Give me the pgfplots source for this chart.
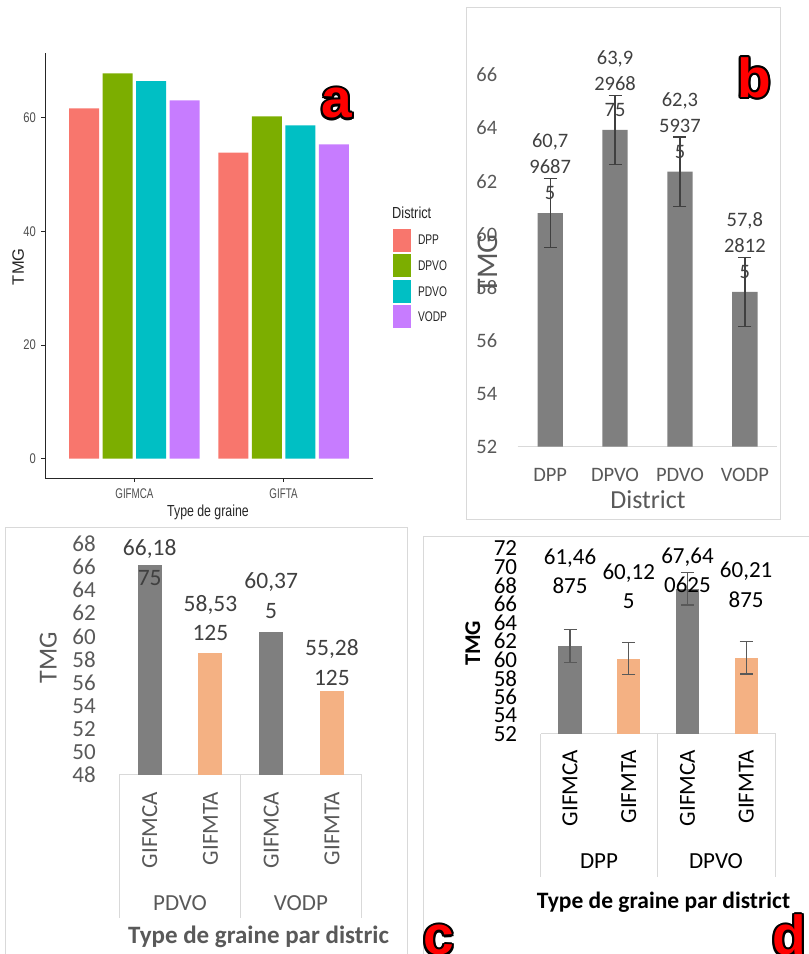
\documentclass[border=0pt]{standalone}
\usepackage{pgfplots}
\pgfplotsset{compat=1.18}
\usepackage{fontspec}
\setmainfont{Carlito}
\newfontfamily\arialfont{Liberation Sans}

\definecolor{ggdpp}{HTML}{F8766D}
\definecolor{ggdpvo}{HTML}{7CAE00}
\definecolor{ggpdvo}{HTML}{00BFC4}
\definecolor{ggvodp}{HTML}{C77CFF}
\definecolor{ggtick}{HTML}{4D4D4D}
\definecolor{ggtext}{HTML}{262626}
\definecolor{xlgray}{HTML}{7F7F7F}
\definecolor{xlorange}{HTML}{F4B183}
\definecolor{xltext}{HTML}{595959}
\definecolor{xllabel}{HTML}{404040}
\definecolor{xlline}{HTML}{D9D9D9}

\newcommand\fs[2]{\fontsize{#1}{#2}\selectfont}
% red panel letter with a black outline
\newcommand\panelletter[3]{%
  \foreach \ang in {0,30,...,330}{%
    \node[anchor=base, inner sep=0pt, font=\arialfont\bfseries\fs{55}{55}, text=black]
      at ([shift={(\ang:2.2pt)}]#1,#2) {#3};}%
  \node[anchor=base, inner sep=0pt, font=\arialfont\bfseries\fs{55}{55}, text=red] at (#1,#2) {#3};}

\begin{document}
\begin{tikzpicture}[x=1pt,y=1pt]
\path[use as bounding box] (0,0) rectangle (809,954);

% panel frames
\draw[xlline, line width=1pt] (466,946) rectangle (780,434);
\draw[xlline, line width=1pt] (5,-10) -- (5,426) -- (407,426) -- (407,-10);
\draw[xlline, line width=1pt] (423,-10) -- (423,417) -- (815,417);

% ---------- a ----------
\begin{axis}[at={(45pt,476pt)}, anchor=south west, scale only axis,
  width=328pt, height=425pt,
  xmin=0.4, xmax=2.6, ymin=-3.4, ymax=71.4,
  axis x line*=bottom, axis y line*=left,
  axis line style={-, black!85, line width=0.8pt},
  tick align=outside, major tick length=4pt,
  tick style={black!85, line width=0.8pt},
  xtick={1,2}, xticklabels={\scalebox{0.7}[1]{GIFMCA},\scalebox{0.7}[1]{GIFTA}},
  ytick={0,20,40,60},
  yticklabel={\scalebox{0.8}[1]{\pgfmathprintnumber{\tick}}},
  /pgf/number format/assume math mode=true,
  ticklabel style={font=\arialfont\fs{14}{14}, text=ggtick, inner sep=0pt},
  yticklabel style={xshift=-5pt},
  xticklabel style={yshift=-6.3pt},
  legend style={at={(axis description cs:1.0601,0.587)}, anchor=north west,
    draw=none, fill=none, inner sep=0pt, outer sep=0pt,
    row sep=2.6pt, column sep=7pt,
    nodes={inner sep=0pt, text depth=0pt, font=\arialfont\fs{14}{14}, text=ggtext}},
  legend cell align=left,
  legend image code/.code={\path[#1] (0pt,-11.5pt) rectangle (18.3pt,11.5pt);},
]
\addplot[ybar, bar width=30pt, bar shift=-50.25pt, fill=ggdpp, draw=none]
  coordinates {(1,61.67) (2,53.85)};
\addlegendentry{\scalebox{0.73}[1]{DPP}}
\addplot[ybar, bar width=30pt, bar shift=-16.75pt, fill=ggdpvo, draw=none]
  coordinates {(1,67.83) (2,60.26)};
\addlegendentry{\scalebox{0.73}[1]{DPVO}}
\addplot[ybar, bar width=30pt, bar shift=16.75pt, fill=ggpdvo, draw=none]
  coordinates {(1,66.47) (2,58.68)};
\addlegendentry{\scalebox{0.73}[1]{PDVO}}
\addplot[ybar, bar width=30pt, bar shift=50.25pt, fill=ggvodp, draw=none]
  coordinates {(1,63.08) (2,55.33)};
\addlegendentry{\scalebox{0.73}[1]{VODP}}
\end{axis}
\node[rotate=90, inner sep=0pt, font=\arialfont\fs{16.5}{16.5}, text=ggtext] at (18.3,687.3) {TMG};
\node[anchor=base, inner sep=0pt, font=\arialfont\fs{16}{16}, text=ggtext] at (208,437.3) {\scalebox{0.77}[1]{Type de graine}};
\node[anchor=base west, inner sep=0pt, font=\arialfont\fs{16}{16}, text=ggtext] at (392,735.7) {\scalebox{0.8}[1]{District}};

% ---------- b ----------
\begin{axis}[at={(517.7pt,507.3pt)}, anchor=south west, scale only axis,
  width=259.6pt, height=398.25pt,
  xmin=0.5, xmax=4.5, ymin=52, ymax=67, clip mode=individual,
  axis x line*=bottom, axis y line*=left, axis line style={-},
  x axis line style={draw=xlline, line width=1pt}, y axis line style={draw=none},
  major tick length=0pt, tick style={draw=none},
  xtick={1,2,3,4}, xticklabels={DPP,DPVO,PDVO,VODP},
  ytick={52,54,...,66},
  /pgf/number format/assume math mode=true,
  ticklabel style={font=\fs{20.5}{24}, text=xltext, inner sep=0pt},
  yticklabel style={xshift=-20.3pt},
  xticklabel style={yshift=-21.6pt},
  nodes near coords, point meta=explicit symbolic,
  every node near coord/.append style={font=\fs{20.5}{26}, text=xllabel, align=center,
    anchor=south, inner sep=0pt, yshift=13.3pt},
]
\addplot[ybar, bar width=25.3pt, fill=xlgray, draw=none,
  error bars/.cd, y dir=both, y explicit,
  error bar style={xllabel, line width=1.3pt},
  error mark options={rotate=90, mark size=6.5pt, line width=1.3pt, xllabel}]
  table[x=x, y=y, y error=e, meta=lab] {
x y e lab
1 60.796875 1.3 {60,7\\9687\\5}
2 63.9296875 1.3 {63,9\\2968\\75}
3 62.359375 1.3 {62,3\\5937\\5}
4 57.828125 1.3 {57,8\\2812\\5}
};
\end{axis}
\node[font=\fs{26}{26}, text=xltext, inner sep=0pt] at (648,454) {District};
\node[rotate=90, font=\fs{30}{30}, text=xltext, inner sep=0pt] at (487.7,690) {TMG};

% ---------- c ----------
\begin{axis}[at={(119.3pt,179pt)}, anchor=south west, scale only axis,
  width=243pt, height=231pt,
  xmin=0.5, xmax=4.5, ymin=48, ymax=68, clip mode=individual,
  axis x line*=bottom, axis y line*=left, axis line style={-},
  x axis line style={draw=xlline, line width=1pt}, y axis line style={draw=none},
  major tick length=0pt, tick style={draw=none},
  xtick={1,2,3,4}, xticklabels={GIFMCA,GIFMTA,GIFMCA,GIFMTA},
  ytick={48,50,...,68},
  /pgf/number format/assume math mode=true,
  ticklabel style={font=\fs{23}{27}, text=xltext, inner sep=0pt},
  yticklabel style={xshift=-23.3pt},
  xticklabel style={yshift=-16.7pt, rotate=90, anchor=east},
  every node near coord/.append style={font=\fs{23.5}{29.5}, text=xllabel, align=center,
    anchor=center, inner sep=0pt},
]
\addplot[ybar, bar width=24pt, fill=xlgray, draw=none, nodes near coords={66,18\\75},
  every node near coord/.append style={yshift=2.2pt}] coordinates {(1,66.1875)};
\addplot[ybar, bar width=24pt, fill=xlorange, draw=none, nodes near coords={58,53\\125},
  every node near coord/.append style={yshift=35.4pt}] coordinates {(2,58.53125)};
\addplot[ybar, bar width=24pt, fill=xlgray, draw=none, nodes near coords={60,37\\5},
  every node near coord/.append style={yshift=36.3pt}] coordinates {(3,60.375)};
\addplot[ybar, bar width=24pt, fill=xlorange, draw=none, nodes near coords={55,28\\125},
  every node near coord/.append style={yshift=28.1pt}] coordinates {(4,55.28125)};
\end{axis}
\draw[xlline, line width=1pt] (119.3,179) -- (119.3,36) (240.7,179) -- (240.7,36) (361.7,179) -- (361.7,36);
\node[rotate=90, font=\fs{26}{26}, text=xltext, inner sep=0pt] at (48.3,296) {TMG};
\node[font=\fs{23}{23}, text=xltext, inner sep=0pt] at (180,51) {PDVO};
\node[font=\fs{23}{23}, text=xltext, inner sep=0pt] at (301,51) {VODP};
\node[anchor=base west, inner sep=0pt, font=\bfseries\fs{25}{25}, text=xltext] at (128,10.7) {Type de graine par distric};

% ---------- d ----------
\begin{axis}[at={(540.7pt,220pt)}, anchor=south west, scale only axis,
  width=234.8pt, height=185.7pt,
  xmin=0.5, xmax=4.5, ymin=52, ymax=72, clip mode=individual,
  axis x line*=bottom, axis y line*=left, axis line style={-},
  x axis line style={draw=xlline, line width=1pt}, y axis line style={draw=none},
  major tick length=0pt, tick style={draw=none},
  xtick={1,2,3,4}, xticklabels={GIFMCA,GIFMTA,GIFMCA,GIFMTA},
  ytick={52,54,...,72},
  /pgf/number format/assume math mode=true,
  ticklabel style={font=\fs{23}{27}, text=black, inner sep=0pt},
  yticklabel style={xshift=-23.4pt},
  xticklabel style={yshift=-16pt, rotate=90, anchor=east},
  every node near coord/.append style={font=\fs{23}{29.3}, text=black, align=center,
    anchor=center, inner sep=0pt},
]
\addplot[ybar, bar width=23.3pt, fill=xlgray, draw=none, nodes near coords={61,46\\875},
  every node near coord/.append style={yshift=74.75pt},
  error bars/.cd, y dir=both, y explicit,
  error bar style={xltext, line width=1.3pt},
  error mark options={rotate=90, mark size=6.5pt, line width=1.3pt, xltext}]
  coordinates {(1,61.46875) +- (0,1.75)};
\addplot[ybar, bar width=23.3pt, fill=xlorange, draw=none, nodes near coords={60,12\\5},
  every node near coord/.append style={yshift=71.9pt},
  error bars/.cd, y dir=both, y explicit,
  error bar style={xltext, line width=1.3pt},
  error mark options={rotate=90, mark size=6.5pt, line width=1.3pt, xltext}]
  coordinates {(2,60.125) +- (0,1.75)};
\addplot[ybar, bar width=23.3pt, fill=xlgray, draw=none, nodes near coords={67,64\\0625},
  every node near coord/.append style={yshift=18.3pt},
  error bars/.cd, y dir=both, y explicit,
  error bar style={xltext, line width=1.3pt},
  error mark options={rotate=90, mark size=6.5pt, line width=1.3pt, xltext}]
  coordinates {(3,67.640625) +- (0,1.75)};
\addplot[ybar, bar width=23.3pt, fill=xlorange, draw=none, nodes near coords={60,21\\875},
  every node near coord/.append style={yshift=73pt},
  error bars/.cd, y dir=both, y explicit,
  error bar style={xltext, line width=1.3pt},
  error mark options={rotate=90, mark size=6.5pt, line width=1.3pt, xltext}]
  coordinates {(4,60.21875) +- (0,1.75)};
\end{axis}
\draw[xlline, line width=1pt] (540.7,220) -- (540.7,77.3) (657.7,220) -- (657.7,77.3) (775.5,220) -- (775.5,77.3);
\node[rotate=90, font=\bfseries\fs{22.5}{22.5}, inner sep=0pt] at (472.7,310.7) {TMG};
\node[font=\fs{23}{23}, inner sep=0pt] at (599,93) {DPP};
\node[font=\fs{23}{23}, inner sep=0pt] at (716,93) {DPVO};
\node[anchor=base west, inner sep=0pt, font=\bfseries\fs{23.5}{23.5}] at (536.7,45.7) {Type de graine par district};

% panel letters
\panelletter{336.5}{836}{a}
\panelletter{754.5}{856.7}{b}
\panelletter{439}{-1}{c}
\panelletter{789}{-1}{d}
\end{tikzpicture}
\end{document}
